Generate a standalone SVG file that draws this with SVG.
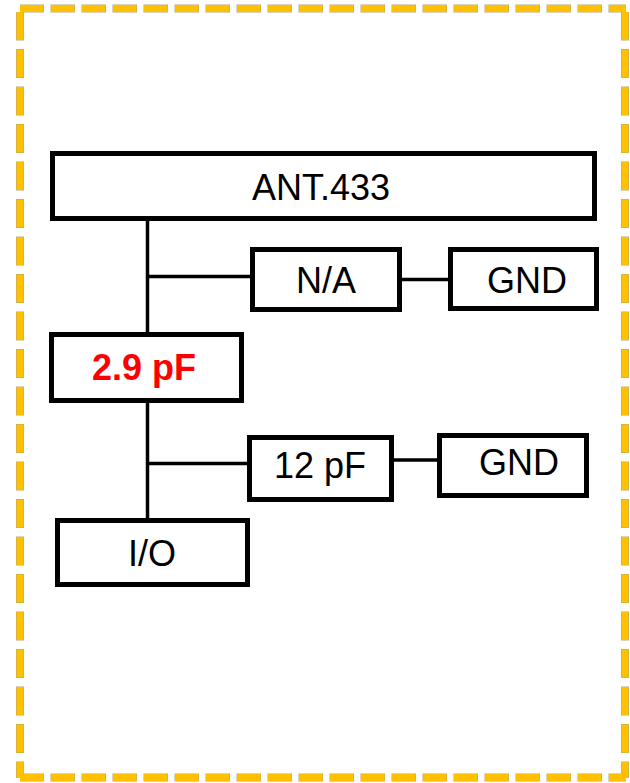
<svg xmlns="http://www.w3.org/2000/svg" width="630" height="783" viewBox="0 0 630 783">
<style>
.box{fill:#fff;stroke:#000;stroke-width:5}
.t{font-family:"Liberation Sans",Arial,sans-serif;font-size:36px;fill:#000;text-anchor:middle}
.red{fill:#ff0000;font-weight:bold}
.ln{stroke:#000;stroke-width:3.5;fill:none}
.bh{stroke:#FFC000;stroke-width:7;stroke-dasharray:23.5 7.5;fill:none}
.bv{stroke:#FFC000;stroke-width:7;stroke-dasharray:28 9.5;fill:none}
.bho{stroke:#b8a878;stroke-width:8;stroke-dasharray:24.5 6.5;stroke-dashoffset:0.5;fill:none}
.bvo{stroke:#b8a878;stroke-width:8;stroke-dasharray:29 8.5;stroke-dashoffset:0.5;fill:none}
</style>
<rect width="630" height="783" fill="#fff"/>
<g id="border">
<line class="bho" x1="20" y1="8.5" x2="626" y2="8.5"/>
<line class="bho" x1="20" y1="777.5" x2="626" y2="777.5"/>
<line class="bvo" x1="20" y1="12" x2="20" y2="778"/>
<line class="bvo" x1="625" y1="12" x2="625" y2="778"/>
<line class="bh" x1="20" y1="8.5" x2="626" y2="8.5"/>
<line class="bh" x1="20" y1="777.5" x2="626" y2="777.5"/>
<line class="bv" x1="20" y1="12" x2="20" y2="778"/>
<line class="bv" x1="625" y1="12" x2="625" y2="778"/>
</g>
<g id="connectors">
<line class="ln" x1="147.5" y1="221" x2="147.5" y2="332"/>
<line class="ln" x1="147.5" y1="276.5" x2="250" y2="276.5"/>
<line class="ln" x1="402" y1="279.5" x2="448" y2="279.5"/>
<line class="ln" x1="147.5" y1="403" x2="147.5" y2="518"/>
<line class="ln" x1="147.5" y1="463.5" x2="247" y2="463.5"/>
<line class="ln" x1="394" y1="460" x2="437" y2="460"/>
</g>
<g id="ant"><rect class="box" x="52.5" y="153.5" width="542" height="65"/><text class="t" x="321" y="200">ANT.433</text></g>
<g id="na"><rect class="box" x="252.5" y="249.5" width="147" height="60"/><text class="t" x="326" y="293">N/A</text></g>
<g id="gnd1"><rect class="box" x="450.5" y="249.5" width="146" height="59"/><text class="t" x="527" y="293">GND</text></g>
<g id="cap29"><rect class="box" x="51.5" y="334.5" width="190" height="66"/><text class="t red" x="144" y="380">2.9 pF</text></g>
<g id="cap12"><rect class="box" x="249.5" y="437.5" width="142" height="62"/><text class="t" x="320" y="478">12 pF</text></g>
<g id="gnd2"><rect class="box" x="439.5" y="435.5" width="147" height="60"/><text class="t" x="519" y="475">GND</text></g>
<g id="io"><rect class="box" x="57.5" y="520.5" width="190" height="64"/><text class="t" x="152" y="566">I/O</text></g>
</svg>
